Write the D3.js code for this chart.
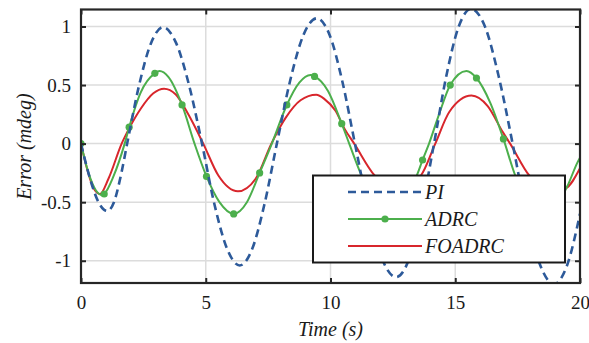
<!DOCTYPE html>
<html>
<head>
<meta charset="utf-8">
<script src="https://cdn.jsdelivr.net/npm/d3@7"></script>
<style>
  html, body { margin: 0; padding: 0; background: #fff; }
  svg { display: block; }
  text { font-family: "Liberation Serif", "DejaVu Serif", serif; fill: #1a1a1a; }
</style>
</head>
<body>
<svg id="chart" width="589" height="343"></svg>
<script>
// ---- data ----
const xTicks = [0, 5, 10, 15, 20];
const yTicks = [-1, -0.5, 0, 0.5, 1];
const yTickLabels = ["-1", "-0.5", "0", "0.5", "1"];
const seriesNames = ["PI", "ADRC", "FOADRC"];

const piT = [0, 0.35, 0.7, 1.05, 1.32, 1.58, 1.85, 2.33, 2.81, 3.29, 3.81, 4.33, 4.85, 5.35, 5.86, 6.36, 6.86, 7.35, 7.85, 8.38, 8.92, 9.45, 9.96, 10.47, 10.98, 11.53, 12.08, 12.63, 13.14, 13.64, 14.15, 14.64, 15.14, 15.63, 16.19, 16.74, 17.3, 17.85, 18.41, 18.96, 19.48, 20];
const piV = [0, -0.29, -0.5, -0.575, -0.5, -0.29, 0, 0.5, 0.86, 0.994, 0.86, 0.5, 0, -0.52, -0.9, -1.04, -0.9, -0.52, 0, 0.535, 0.93, 1.07, 0.93, 0.535, 0, -0.57, -0.99, -1.14, -0.99, -0.57, 0, 0.575, 1.0, 1.15, 1.0, 0.575, 0, -0.6, -1.04, -1.2, -1.04, -0.6];

const adrcT = [0, 0.3, 0.6, 0.85, 0.93, 1.3, 1.75, 1.93, 2.4, 2.96, 3.15, 3.5, 4.05, 4.55, 5.03, 5.55, 6.12, 6.65, 7.16, 7.65, 8.25, 8.75, 9.2, 9.36, 9.9, 10.45, 10.75, 11.2, 11.53, 12.0, 12.35, 12.61, 13.1, 13.5, 13.69, 13.95, 14.35, 14.8, 15.45, 15.85, 16.4, 16.93, 17.4, 18.0, 18.55, 19.07, 19.5, 19.9, 20];
const adrcV = [0, -0.25, -0.4, -0.44, -0.43, -0.28, 0, 0.14, 0.44, 0.6, 0.62, 0.57, 0.33, 0, -0.28, -0.5, -0.6, -0.5, -0.25, 0, 0.33, 0.52, 0.585, 0.574, 0.45, 0.17, 0, -0.25, -0.4, -0.56, -0.6, -0.58, -0.45, -0.25, -0.14, 0, 0.25, 0.5, 0.62, 0.56, 0.35, 0.04, -0.27, -0.52, -0.6, -0.52, -0.36, -0.16, -0.12];
const adrcMarkerT = [0, 0.93, 1.93, 2.96, 4.05, 5.03, 6.12, 7.16, 8.25, 9.36, 10.45, 11.53, 12.61, 13.69, 14.8, 15.85, 16.93, 18.0, 19.07];
const adrcMarkerV = [0, -0.43, 0.14, 0.6, 0.33, -0.28, -0.6, -0.25, 0.33, 0.574, 0.17, -0.4, -0.58, -0.14, 0.5, 0.56, 0.04, -0.52, -0.52];

const foT = [0, 0.25, 0.5, 0.76, 1.1, 1.63, 1.93, 2.4, 2.9, 3.33, 3.8, 4.3, 4.9, 5.5, 6.29, 7.0, 7.63, 8.2, 8.8, 9.43, 9.76, 10.2, 10.56, 10.95, 11.76, 12.7, 13.63, 14.2, 14.76, 15.65, 16.3, 16.9, 17.2, 17.96, 18.95, 19.43, 20];
const foV = [0, -0.22, -0.38, -0.43, -0.3, 0, 0.13, 0.3, 0.43, 0.469, 0.42, 0.25, 0, -0.27, -0.407, -0.3, 0, 0.22, 0.37, 0.417, 0.38, 0.28, 0.128, 0, -0.27, -0.4, -0.27, 0, 0.27, 0.41, 0.32, 0.1, 0, -0.27, -0.4, -0.38, -0.21];

(function () {
// ---- layout ----
const pLeft = 81, pRight = 580, pTop = 9.5, pBottom = 283;
const colors = { PI: "#2d5a9a", ADRC: "#4caf4c", FOADRC: "#d8262c" };

const svg = d3.select("#chart");
const x = d3.scaleLinear().domain([0, 20]).range([pLeft, pRight]);
const y = d3.scaleLinear().domain([-1.19, 1.145]).range([pBottom, pTop]);

// grid
const grid = svg.append("g");
grid.selectAll("line.v").data(xTicks.slice(1, -1)).enter().append("line")
  .attr("x1", d => x(d)).attr("x2", d => x(d)).attr("y1", pTop).attr("y2", pBottom)
  .attr("stroke", "#dcdcdc").attr("stroke-width", 1.5);
grid.selectAll("line.h").data(yTicks).enter().append("line")
  .attr("y1", d => y(d)).attr("y2", d => y(d)).attr("x1", pLeft).attr("x2", pRight)
  .attr("stroke", "#dcdcdc").attr("stroke-width", 1.5);

// clip
svg.append("clipPath").attr("id", "clip").append("rect")
  .attr("x", pLeft).attr("y", pTop).attr("width", pRight - pLeft).attr("height", pBottom - pTop);

const line = d3.line().x(d => x(d[0])).y(d => y(d[1])).curve(d3.curveMonotoneX);
const plot = svg.append("g").attr("clip-path", "url(#clip)");

const piData = piT.map((t, i) => [t, piV[i]]);
const adrcData = adrcT.map((t, i) => [t, adrcV[i]]);
const foData = foT.map((t, i) => [t, foV[i]]);
const adrcMarks = adrcMarkerT.map((t, i) => [t, adrcMarkerV[i]]);

plot.append("path").datum(foData).attr("d", line).attr("fill", "none")
  .attr("stroke", colors.FOADRC).attr("stroke-width", 2);
plot.append("path").datum(adrcData).attr("d", line).attr("fill", "none")
  .attr("stroke", colors.ADRC).attr("stroke-width", 2);
plot.selectAll("circle.m").data(adrcMarks).enter().append("circle")
  .attr("cx", d => x(d[0])).attr("cy", d => y(d[1])).attr("r", 3.6)
  .attr("fill", colors.ADRC);
plot.append("path").datum(piData).attr("d", line).attr("fill", "none")
  .attr("stroke", colors.PI).attr("stroke-width", 2.6).attr("stroke-dasharray", "8,5");

// axes (box with inward ticks)
const axColor = "#262626";
const gB = svg.append("g").attr("transform", `translate(0,${pBottom})`)
  .call(d3.axisBottom(x).tickValues(xTicks).tickSize(-5).tickPadding(13).tickFormat(d3.format("d")));
const gT = svg.append("g").attr("transform", `translate(0,${pTop})`)
  .call(d3.axisTop(x).tickValues(xTicks).tickSize(-5).tickFormat(""));
const gL = svg.append("g").attr("transform", `translate(${pLeft},0)`)
  .call(d3.axisLeft(y).tickValues(yTicks).tickSize(-5).tickPadding(10).tickFormat((d, i) => yTickLabels[i]));
const gR = svg.append("g").attr("transform", `translate(${pRight},0)`)
  .call(d3.axisRight(y).tickValues(yTicks).tickSize(-5).tickFormat(""));
[gB, gT, gL, gR].forEach(g => {
  g.select(".domain").remove();
  g.selectAll(".tick line").attr("stroke", axColor).attr("stroke-width", 2);
  g.selectAll(".tick text").attr("font-family", "Liberation Serif").attr("font-size", 19).attr("fill", "#1a1a1a");
});
gB.selectAll(".tick text").attr("dy", "0.71em");
svg.append("rect").attr("x", pLeft).attr("y", pTop).attr("width", pRight - pLeft).attr("height", pBottom - pTop)
  .attr("fill", "none").attr("stroke", axColor).attr("stroke-width", 2.2);

// axis titles
svg.append("text").attr("x", x(10)).attr("y", 336).attr("text-anchor", "middle")
  .attr("font-size", 20).attr("font-style", "italic").text("Time (s)");
svg.append("text").attr("transform", `translate(31,${y(0) + 3}) rotate(-90)`)
  .attr("text-anchor", "middle").attr("font-size", 20).attr("font-style", "italic").text("Error (mdeg)");

// legend
const lg = svg.append("g");
lg.append("rect").attr("x", 313).attr("y", 175.5).attr("width", 252).attr("height", 87)
  .attr("fill", "#fff").attr("stroke", "#1a1a1a").attr("stroke-width", 2);
const legRows = [
  { name: seriesNames[0], y: 192 },
  { name: seriesNames[1], y: 219 },
  { name: seriesNames[2], y: 246 }
];
legRows.forEach(r => {
  const ln = lg.append("line").attr("x1", 348).attr("x2", 422).attr("y1", r.y).attr("y2", r.y)
    .attr("stroke", colors[r.name]).attr("stroke-width", r.name === "PI" ? 2.6 : 2);
  if (r.name === "PI") ln.attr("stroke-dasharray", "8,5");
  if (r.name === "ADRC") lg.append("circle").attr("cx", 385).attr("cy", r.y).attr("r", 3.6).attr("fill", colors.ADRC);
  lg.append("text").attr("x", 425).attr("y", r.y).attr("dy", "0.35em").attr("font-size", 20)
    .attr("font-style", "italic").text(r.name);
});
})();
</script>
</body>
</html>
